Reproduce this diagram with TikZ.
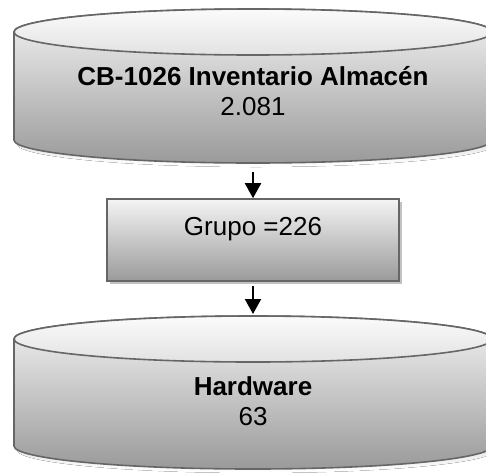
\documentclass[tikz,border=0pt]{standalone}
\usepackage{fontspec}
\setmainfont{Liberation Sans}
\usetikzlibrary{arrows.meta,shadows}
\definecolor{edge}{HTML}{666666}
\definecolor{bodytop}{HTML}{F4F4F4}
\definecolor{bodybot}{HTML}{9A9A9A}
\definecolor{captop}{HTML}{FBFBFB}
\definecolor{capbot}{HTML}{E2E2E2}
\definecolor{shade}{HTML}{C2C2C2}
\tikzset{
  outline/.style={draw=edge, line width=1.6pt},
  bodyfill/.style={top color=bodytop, bottom color=bodybot},
  capfill/.style={top color=captop, bottom color=capbot},
  lbl/.style={font=\fontsize{26}{30}\selectfont, align=center, text=black, inner sep=0pt},
  flow/.style={line width=2pt, -{Triangle[width=16pt,length=15pt]}},
  box/.style={outline, bodyfill, minimum width=292pt, minimum height=82pt, inner sep=0pt,
    drop shadow={shadow xshift=3pt, shadow yshift=-3pt, fill=shade, opacity=1}}
}
\newcommand\mycyl[2]{%
  \fill[shade] (17,#1-4) -- (17,#2-4) arc[start angle=180,end angle=360,x radius=239,y radius=23] -- (495,#1-4) -- cycle;
  \path[outline, bodyfill] (14,#1) -- (14,#2) arc[start angle=180,end angle=360,x radius=239,y radius=23]
     -- (492,#1) arc[start angle=0,end angle=180,x radius=239,y radius=23] -- cycle;
  \path[outline, capfill] (253,#1) ellipse[x radius=239,y radius=23];
}
\begin{document}
\begin{tikzpicture}[x=1pt,y=1pt]
\useasboundingbox (0,0) rectangle (486,-472);
% upper store
\mycyl{-32}{-140}
\node[lbl] (inv) at (253,-91) {\textbf{CB-1026 Inventario Almacén}\\2.081};
% group box
\node[box, lbl, text height=18pt, text depth=28pt] (grupo) at (253,-240) {Grupo =226};
% lower store
\mycyl{-339}{-446}
\node[lbl] (hw) at (253,-401) {\textbf{Hardware}\\63};
% connectors
\coordinate (a1) at (253,-172);
\coordinate (hwtop) at (253,-314);
\draw[flow] (a1) -- (grupo.north);
\draw[flow] ([yshift=-4pt]grupo.south) -- (hwtop);
\end{tikzpicture}
\end{document}
